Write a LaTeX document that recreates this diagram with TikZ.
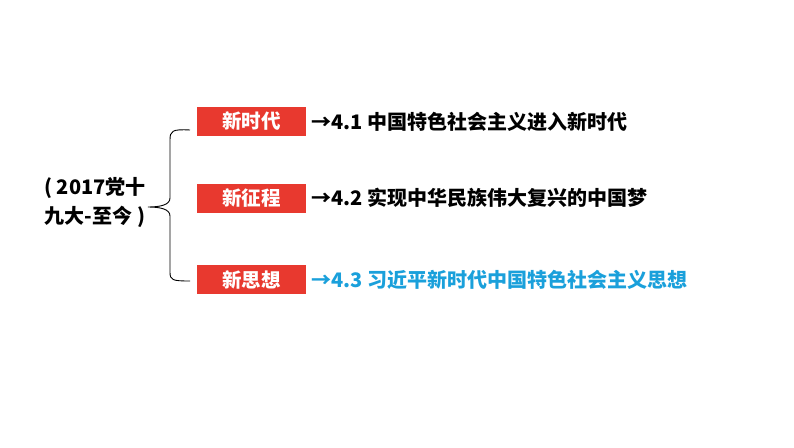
\documentclass[tikz,border=0pt]{standalone}
\usepackage{fontspec}
\setmainfont{Noto Sans CJK SC}
\newfontfamily\cjk{Noto Sans CJK SC}
\definecolor{boxred}{HTML}{E8392F}
\definecolor{topicblue}{HTML}{1AA0DB}
\tikzset{
  tagbox/.style={fill=boxred, text=white, minimum width=109pt, minimum height=29pt, inner sep=0pt, font=\cjk\bfseries\fontsize{19.5}{22}\selectfont},
  topic/.style={anchor=west, inner sep=0pt, font=\cjk\bfseries\fontsize{20}{22}\selectfont},
  bracestyle/.style={draw=black, line width=0.9pt}
}
\begin{document}
\begin{tikzpicture}[x=1pt,y=-1pt]
\useasboundingbox (0,0) rectangle (794,447);
\fill[white] (0,0) rectangle (794,447);
\node[tagbox] (b1) at (251.5,121.5) {新时代};
\node[tagbox] (b2) at (251.5,198) {新征程};
\node[tagbox] (b3) at (251.5,279.5) {新思想};
\node[topic] (t1) at (311,121.5) {→4.1 中国特色社会主义进入新时代};
\node[topic] (t2) at (311,198) {→4.2 实现中华民族伟大复兴的中国梦};
\node[topic, text=topicblue] (t3) at (311,279.5) {→4.3 习近平新时代中国特色社会主义思想};
\node[align=center, inner sep=0pt, font=\cjk\bfseries\fontsize{20}{29}\selectfont] (lab) at (95,202) {( 2017党十\\九大-至今 )};
\coordinate (tip) at (148,207);
\coordinate (e1) at (190,130);
\coordinate (e3) at (190,281);
\draw[bracestyle] (e1) .. controls (172,129) and (170,131) .. (170,140)
  -- (170,198) .. controls (170,205) and (160,207) .. (tip)
  .. controls (160,207) and (170,209) .. (170,216)
  -- (170,272) .. controls (170,280) and (172,281) .. (e3);
\end{tikzpicture}
\end{document}
